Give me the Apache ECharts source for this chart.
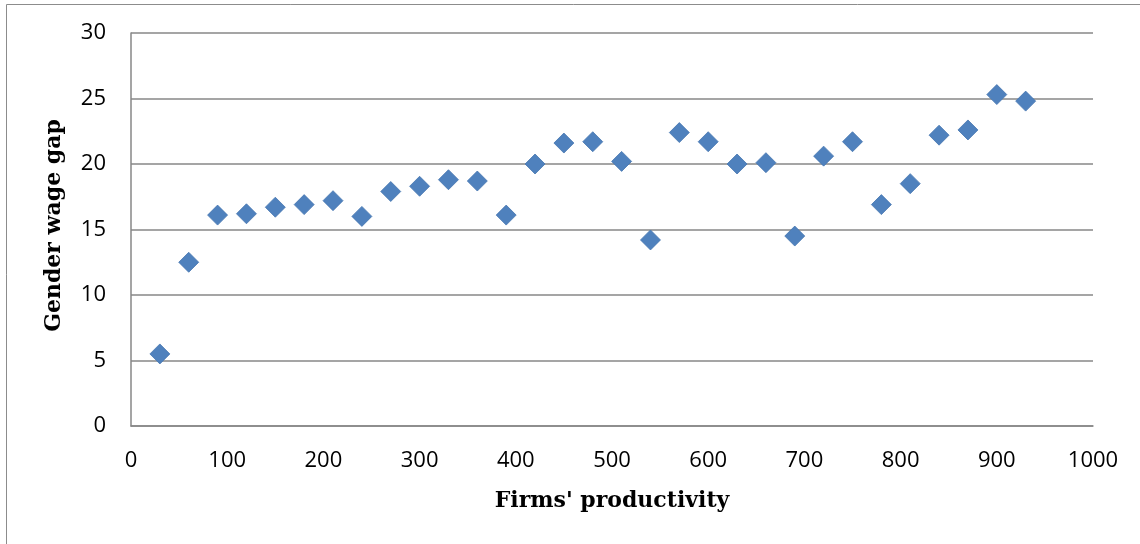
<!DOCTYPE html>
<html>
<head>
<meta charset="utf-8">
<script src="https://cdn.jsdelivr.net/npm/echarts@6/dist/echarts.min.js"></script>
<style>
  html, body { margin: 0; padding: 0; background: #fff; }
  #chart { width: 1140px; height: 544px; }
</style>
</head>
<body>
<div id="chart"></div>
<script>
// Firms' productivity levels (x) and the gender wage gap observed at each (y)
const productivity = [30, 60, 90, 120, 150, 180, 210, 240, 270, 300, 330, 360, 390, 420, 450, 480,
                      510, 540, 570, 600, 630, 660, 690, 720, 750, 780, 810, 840, 870, 900, 930];
const wageGap = [5.5, 12.5, 16.1, 16.2, 16.7, 16.9, 17.2, 16.0, 17.9, 18.3, 18.8, 18.7, 16.1, 20.0, 21.6, 21.7,
                 20.2, 14.2, 22.4, 21.7, 20.0, 20.1, 14.5, 20.6, 21.7, 16.9, 18.5, 22.2, 22.6, 25.3, 24.8];
const xTicks = { min: 0, max: 1000, interval: 100 };
const yTicks = { min: 0, max: 30, interval: 5 };

const points = productivity.map((p, i) => [p, wageGap[i]]);

const chart = echarts.init(document.getElementById('chart'), null, { renderer: 'canvas' });
const gridColor = '#878787';
const labelFont = { fontFamily: 'Open Sans', fontSize: 22, color: '#000' };
const titleFont = { fontFamily: 'DejaVu Serif', fontWeight: 'bold', fontSize: 22, color: '#000' };

chart.setOption({
  animation: false,
  backgroundColor: '#fff',
  graphic: [{
    type: 'rect',
    shape: { x: 6.5, y: 4.5, width: 1200, height: 600 },
    style: { fill: 'none', stroke: '#8c8c8c', lineWidth: 1 },
    silent: true
  }],
  grid: { left: 131, right: 47, top: 33, bottom: 118 },
  xAxis: {
    type: 'value',
    min: xTicks.min, max: xTicks.max, interval: xTicks.interval,
    name: "Firms' productivity",
    nameLocation: 'middle',
    nameGap: 64,
    nameTextStyle: titleFont,
    axisLine: { show: true, lineStyle: { color: gridColor, width: 1.5 } },
    axisTick: { show: false },
    splitLine: { show: false },
    axisLabel: Object.assign({ margin: 24, formatter: v => String(v) }, labelFont)
  },
  yAxis: {
    type: 'value',
    min: yTicks.min, max: yTicks.max, interval: yTicks.interval,
    name: 'Gender wage gap',
    nameLocation: 'middle',
    nameRotate: 90,
    nameGap: 66,
    nameTextStyle: Object.assign({ padding: [0, 0, 0, 8] }, titleFont),
    axisLine: { show: true, lineStyle: { color: gridColor, width: 1.5 } },
    axisTick: { show: false },
    splitLine: { show: true, lineStyle: { color: gridColor, width: 1.5 } },
    axisLabel: Object.assign({ margin: 25, formatter: v => String(v) }, labelFont)
  },
  series: [{
    type: 'scatter',
    data: points,
    symbol: 'diamond',
    symbolSize: 20,
    itemStyle: { color: '#4F81BD', opacity: 1, borderColor: '#4676b0', borderWidth: 0.8 }
  }]
});
</script>
</body>
</html>
